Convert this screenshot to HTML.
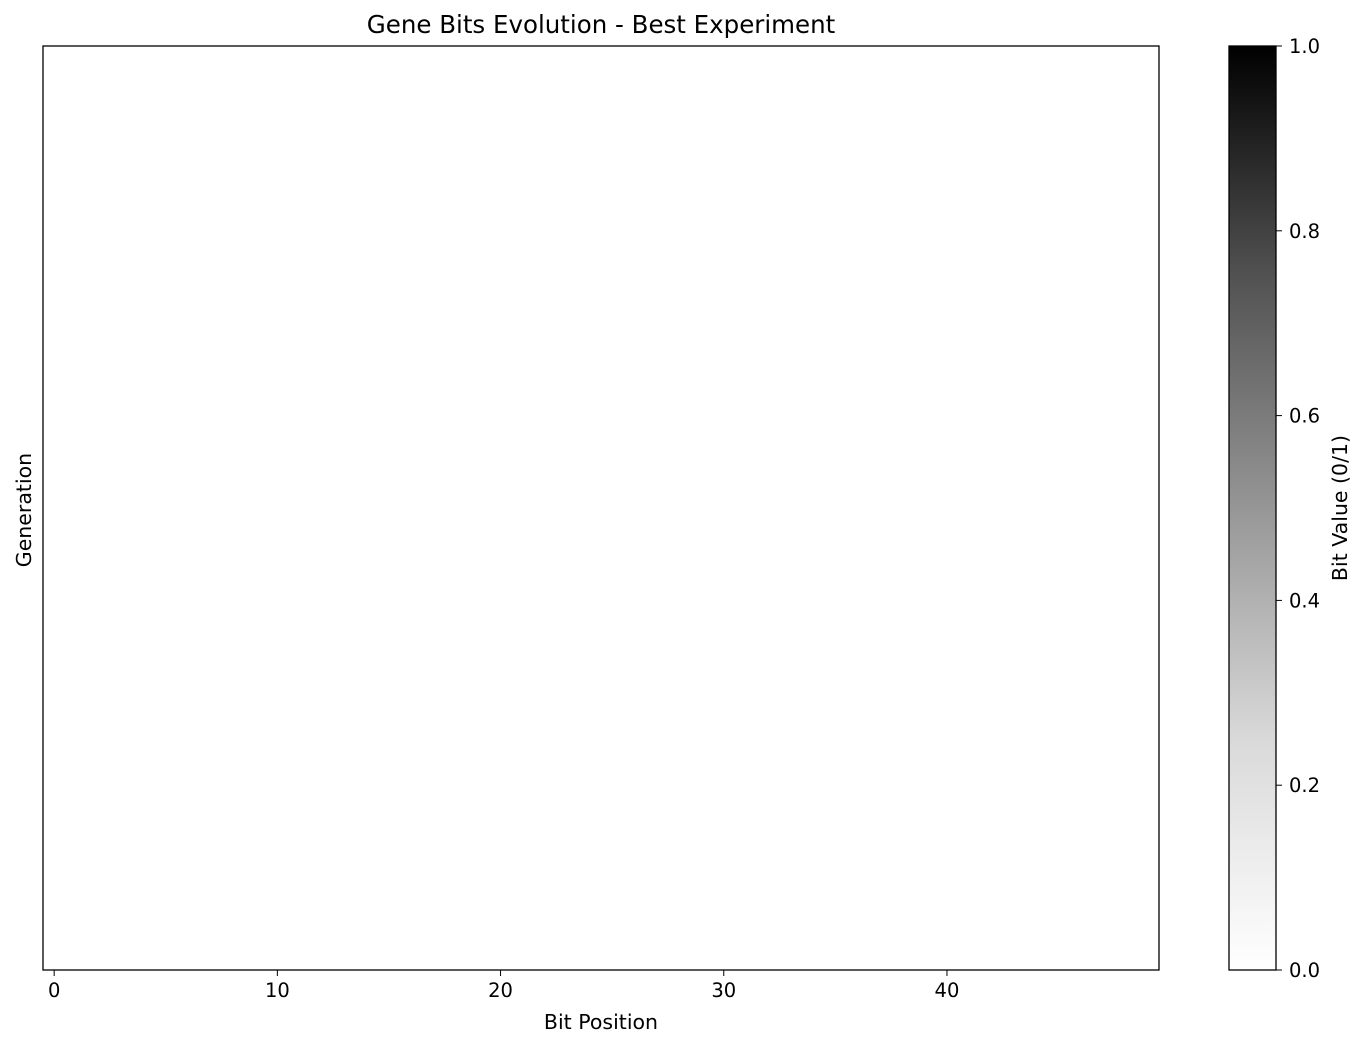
<!DOCTYPE html>
<html><head><meta charset="utf-8"><style>
body{margin:0;background:#fff;}
svg text{font-family:"DejaVu Sans",sans-serif;fill:#000;}
</style></head><body>
<svg id="chart" width="1366" height="1048" xmlns="http://www.w3.org/2000/svg">
<defs><linearGradient id="greys" x1="0" y1="1" x2="0" y2="0">
<stop offset="0" stop-color="#ffffff"/><stop offset="0.25" stop-color="#d9d9d9"/><stop offset="0.5" stop-color="#969696"/><stop offset="0.75" stop-color="#525252"/><stop offset="1" stop-color="#000000"/></linearGradient></defs>
<text x="601" y="33" font-size="24.5" text-anchor="middle">Gene Bits Evolution - Best Experiment</text>
<g id="cells"></g>
<rect x="43" y="46" width="1116" height="924" fill="none" stroke="#000" stroke-width="1.3"/>
<g id="xticks"></g>
<text x="601" y="1029" font-size="20.5" text-anchor="middle">Bit Position</text>
<text transform="translate(31,510) rotate(-90)" font-size="20.5" text-anchor="middle">Generation</text>
<rect x="1229" y="46" width="47" height="924" fill="url(#greys)" stroke="#000" stroke-width="1.3"/>
<g id="cticks"></g>
<text transform="translate(1347,508) rotate(-90)" font-size="20.5" text-anchor="middle">Bit Value (0/1)</text>
</svg>
<script>
const bitPositions=[0,1,2,3,4,5,6,7,8,9,10,11,12,13,14,15,16,17,18,19,20,21,22,23,24,25,26,27,28,29,30,31,32,33,34,35,36,37,38,39,40,41,42,43,44,45,46,47,48,49];
const generations=[0];
const bitValues=[[0,0,0,0,0,0,0,0,0,0,0,0,0,0,0,0,0,0,0,0,0,0,0,0,0,0,0,0,0,0,0,0,0,0,0,0,0,0,0,0,0,0,0,0,0,0,0,0,0,0]];
const xTickLabels=[0,10,20,30,40];
const cbTickLabels=[0.0,0.2,0.4,0.6,0.8,1.0];
const NS="http://www.w3.org/2000/svg";
const px0=43,px1=1159,py0=46,py1=970;
const xs=v=>px0+(v+0.5)/bitPositions.length*(px1-px0);
const ys=g=>py0+(g+0.5)/generations.length*(py1-py0);
const cs=v=>970-v*924;
function grey(v){const c=Math.round(255*(1-v));return `rgb(${c},${c},${c})`;}
const cells=document.getElementById('cells');
const cw=(px1-px0)/bitPositions.length,ch=(py1-py0)/generations.length;
generations.forEach((g,gi)=>bitPositions.forEach((b,bi)=>{
 const r=document.createElementNS(NS,'rect');
 
 
 r.setAttribute('x',xs(b)-cw/2);r.setAttribute('y',ys(g)-ch/2);
 r.setAttribute('width',cw);r.setAttribute('height',ch);
 r.setAttribute('fill',grey(bitValues[gi][bi]));
 cells.appendChild(r);
}));
const xt=document.getElementById('xticks');
xTickLabels.forEach(v=>{
 const l=document.createElementNS(NS,'line');
 
 
 l.setAttribute('x1',xs(v));l.setAttribute('x2',xs(v));l.setAttribute('y1',970);l.setAttribute('y2',976);l.setAttribute('stroke','#000');
 xt.appendChild(l);
 const t=document.createElementNS(NS,'text');
 
 
 t.setAttribute('x',xs(v));t.setAttribute('y',997);t.setAttribute('font-size','19.5');t.setAttribute('text-anchor','middle');
 t.textContent=v;xt.appendChild(t);
});
const ct=document.getElementById('cticks');
cbTickLabels.forEach(v=>{
 const l=document.createElementNS(NS,'line');
 
 
 l.setAttribute('x1',1276);l.setAttribute('x2',1282);l.setAttribute('y1',cs(v));l.setAttribute('y2',cs(v));l.setAttribute('stroke','#000');
 ct.appendChild(l);
 const t=document.createElementNS(NS,'text');
 
 
 t.setAttribute('x',1289);t.setAttribute('y',cs(v)+7);t.setAttribute('font-size','19.5');
 t.textContent=v.toFixed(1);ct.appendChild(t);
});
</script>
</body></html>
